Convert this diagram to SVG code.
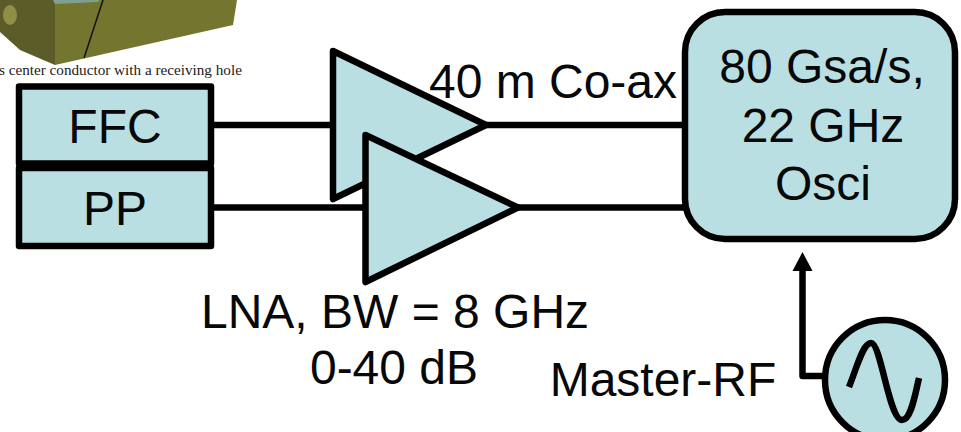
<svg xmlns="http://www.w3.org/2000/svg" width="961" height="432" viewBox="0 0 961 432">
<style>
.n{fill:#b9dfe3;stroke:#000;stroke-width:6.5;stroke-linejoin:round}
.c{fill:none;stroke:#000;stroke-width:6.5;stroke-linejoin:round}
.t{font-family:"Liberation Sans",Arial,sans-serif;font-size:48px;fill:#080808;text-anchor:middle}
</style>
<rect width="961" height="432" fill="#fff"/>
<g id="photo">
<path d="M0 0H56L55 65L20 50L0 32Z" fill="#5c5c28"/>
<path d="M55 5L56 0H237L233 25L55 65Z" fill="#74752f"/>
<path d="M53 0H100L98 2L55 4Z" fill="#7f9f8f"/>
<ellipse cx="10" cy="15" rx="7" ry="10" fill="#8f8f48"/>
<path d="M103 0L84 58" stroke="#111" stroke-width="1.5" fill="none"/>
<text x="-1" y="75" font-family="Liberation Serif,serif" font-size="15.2" fill="#222">s center conductor with a receiving hole</text>
</g>
<g id="connectors">
<path class="c" d="M211 125H333M486 125H685M211 207.500H365M518 207.500H685"/>
<path class="c" d="M825 376H802.500V268"/>
<path d="M802.500 252L792.500 271H812.500Z" fill="#000"/>
</g>
<g id="amp1"><path class="n" d="M333 51L486 125L333 199Z"/></g>
<g id="amp2"><path class="n" d="M365.500 135L518 207.500L365.500 282Z"/></g>
<g id="ffc"><rect class="n" x="19" y="86.500" width="192" height="77"/><text class="t" x="115" y="143">FFC</text></g>
<g id="pp"><rect class="n" x="19" y="168" width="192" height="78"/><text class="t" x="115" y="225">PP</text></g>
<g id="osci"><rect class="n" x="685" y="12" width="270" height="227" rx="40"/>
<text class="t" x="822" y="83">80 Gsa/s,</text><text class="t" x="823" y="142">22 GHz</text><text class="t" x="823" y="200">Osci</text></g>
<g id="rf"><circle class="n" cx="885" cy="380" r="60"/>
<path d="M849 387C857 367 863 343 871 343C881 343 889 420 902 420C911 420 915 395 919 378" fill="none" stroke="#000" stroke-width="6.5"/></g>
<g id="labels">
<text class="t" x="553" y="98">40 m Co-ax</text>
<text class="t" x="395" y="328">LNA, BW = 8 GHz</text>
<text class="t" x="394" y="384">0-40 dB</text>
<text class="t" x="663" y="396">Master-RF</text>
</g>
</svg>
